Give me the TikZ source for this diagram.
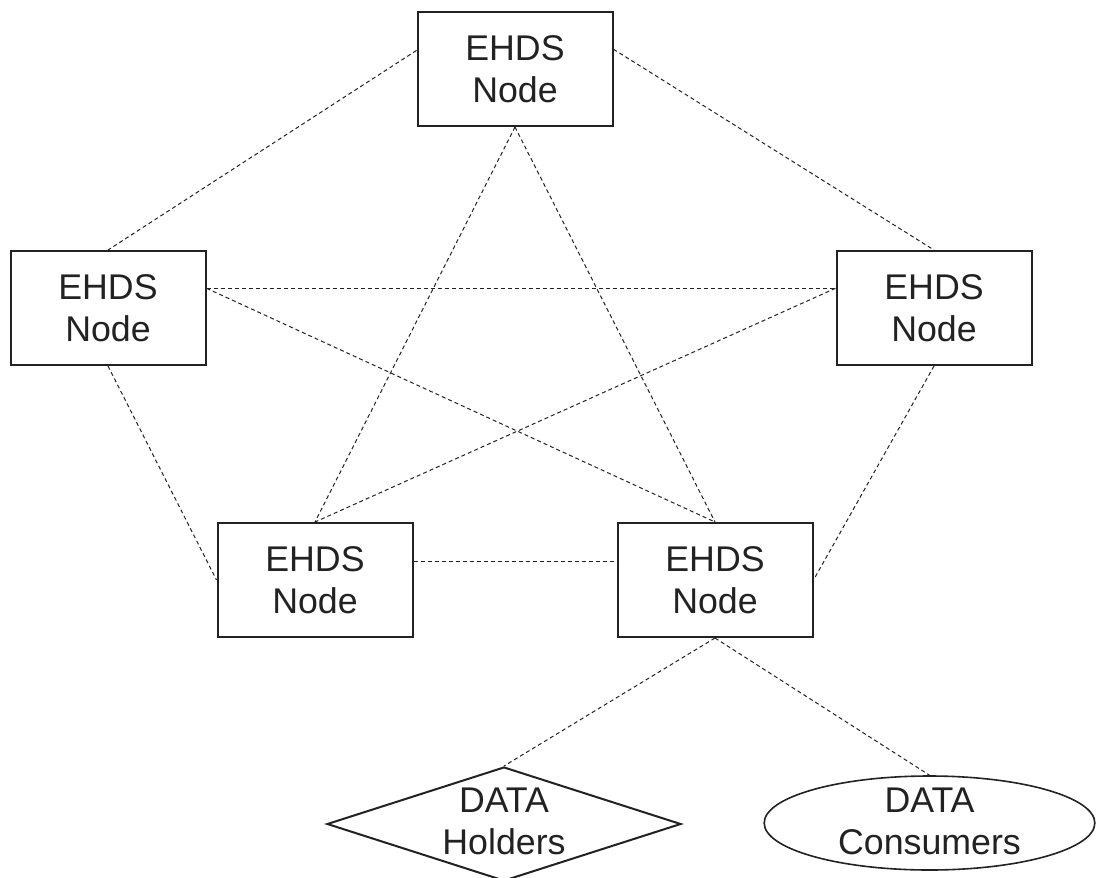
\documentclass[tikz,border=0pt]{standalone}
\usepackage{fontspec}
\setmainfont{Liberation Sans}
\usetikzlibrary{calc,shapes.geometric}
\definecolor{ink}{RGB}{34,34,34}
\tikzset{
  ehds/.style={draw=ink, line width=1.5pt, rectangle, minimum width=146.25pt, minimum height=85.5pt, inner sep=0pt},
  lbl/.style={align=center, text=ink, font=\fontsize{26.8}{31.5}\selectfont},
  link/.style={draw=ink, line width=0.75pt, dash pattern=on 3pt off 2.25pt},
  shapeline/.style={draw=ink, line width=1.5pt, inner sep=0pt}
}
\begin{document}
\begin{tikzpicture}[x=0.75pt,y=-0.75pt]
\useasboundingbox (0,0) rectangle (1096,878);
% boxes
\node[ehds] (T)  at (515,69)  {};
\node[ehds] (L)  at (108,308) {};
\node[ehds] (R)  at (934,308) {};
\node[ehds] (BL) at (315,580) {};
\node[ehds] (BR) at (715,580) {};
\foreach \n in {T,L,R,BL,BR} {\node[lbl] (\n t) at (\n) {EHDS\\Node};}
% diamond and ellipse
\node[shapeline, diamond, minimum width=265.5pt, minimum height=85.5pt] (D) at (504,824) {};
\node[lbl] (Dt) at (504,821) {DATA\\Holders};
\node[shapeline, line width=1.2pt, ellipse, minimum width=248pt, minimum height=70.5pt] (E) at (929.5,823) {};
\node[lbl] (Et) at (929.5,821) {DATA\\Consumers};
% connection points
\coordinate (Tw) at ($(T.north west)!0.34!(T.south west)$);
\coordinate (Te) at ($(T.north east)!0.33!(T.south east)$);
\coordinate (Le) at ($(L.north east)!0.33!(L.south east)$);
\coordinate (Rw) at ($(R.north west)!0.33!(R.south west)$);
\coordinate (BLe) at ($(BL.north east)!0.34!(BL.south east)$);
\coordinate (BRw) at ($(BR.north west)!0.34!(BR.south west)$);
% links
\draw[link] (Tw) -- (L.north);
\draw[link] (Te) -- (R.north);
\draw[link] (T.south) -- (BL.north);
\draw[link] (T.south) -- (BR.north);
\draw[link] (Le) -- (Rw);
\draw[link] (Le) -- (BR.north);
\draw[link] (Rw) -- (BL.north);
\draw[link] (L.south) -- (BL.west);
\draw[link] (R.south) -- (BR.east);
\draw[link] (BLe) -- (BRw);
\draw[link] (BR.south) -- (D.north);
\draw[link] (BR.south) -- (E.north);
\end{tikzpicture}
\end{document}
